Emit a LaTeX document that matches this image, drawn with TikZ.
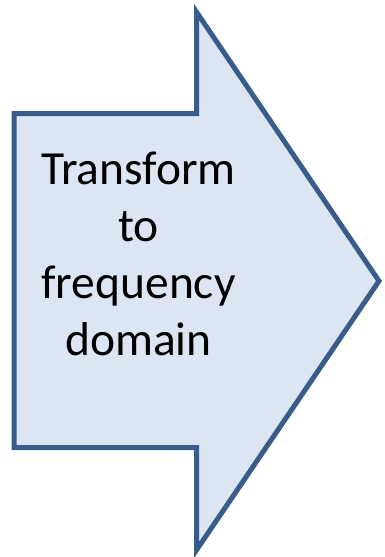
\documentclass[tikz,border=0pt]{standalone}
\usepackage{fontspec}
\setmainfont{Carlito}
\usetikzlibrary{positioning}
\definecolor{arrowline}{RGB}{56,93,138}
\definecolor{arrowfill}{RGB}{220,230,242}

\begin{document}
\begin{tikzpicture}[x=1pt, y=-1pt,
    bigarrow/.style={draw=arrowline, fill=arrowfill, line width=5pt, line join=miter},
    label/.style={align=center, font=\fontsize{47.5}{57}\selectfont, text=black}]
  \useasboundingbox (0,0) rectangle (385,557);
  \draw[bigarrow] (14,113.5) -- (196.5,113.5) -- (196.5,12) -- (379,281)
      -- (196.5,550) -- (196.5,447.5) -- (14,447.5) -- cycle;
  \node[label] (txt) at (138.5,254) {Transform\\to\\frequency\\domain};
\end{tikzpicture}
\end{document}
